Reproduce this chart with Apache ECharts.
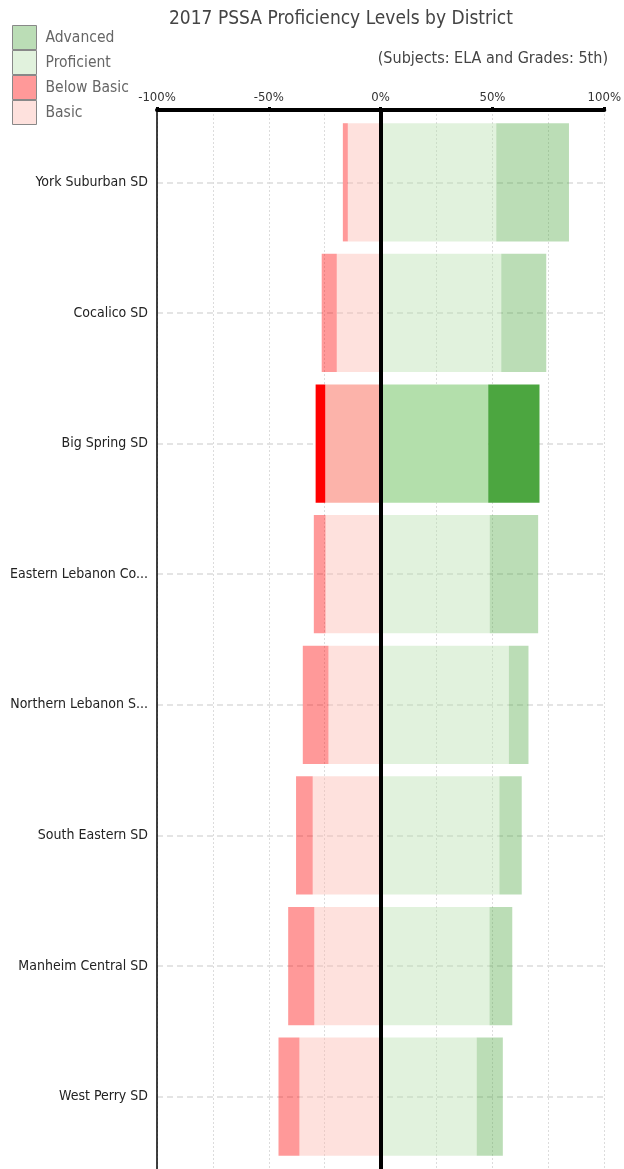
<!DOCTYPE html>
<html><head><meta charset="utf-8">
<script src="https://cdn.jsdelivr.net/npm/echarts@6/dist/echarts.min.js"></script>
<style>html,body{margin:0;padding:0;background:#fff}#c{width:624px;height:1169px}</style>
</head><body><div id="c"></div>
<script>
// ---- data (percent of students) ----
const districts = ['York Suburban SD','Cocalico SD','Big Spring SD','Eastern Lebanon Co...','Northern Lebanon S...','South Eastern SD','Manheim Central SD','West Perry SD'];
const advanced   = [32.3, 20.0, 22.8, 21.5,  8.7,  9.9, 10.1, 11.6];
const proficient = [50.8, 53.0, 47.2, 47.9, 56.4, 52.2, 47.8, 42.1];
const basic      = [15.2, 20.1, 25.2, 25.1, 23.8, 30.8, 30.1, 36.7];
const belowBasic = [ 2.2,  6.7,  4.3,  5.2, 11.4,  7.4, 11.6,  9.3];
const xTickValues = [-100, -50, 0, 50, 100];
const legendOrder = ['Advanced','Proficient','Below Basic','Basic'];
const highlightDistrict = 'Big Spring SD';

const FONT = "'Liberation Sans Narrow','Arial Narrow','DejaVu Sans Condensed',sans-serif";
const colors = {
  'Advanced':    {hi:'#4ca640', lo:'rgba(76,166,64,0.38)'},
  'Proficient':  {hi:'#b3dfab', lo:'rgba(179,223,171,0.4)'},
  'Below Basic': {hi:'#ff0000', lo:'rgba(255,0,0,0.4)'},
  'Basic':       {hi:'#fcb3aa', lo:'rgba(252,179,170,0.4)'}
};
function makeData(values, sign, key) {
  return values.map((v, i) => districts[i] === highlightDistrict
    ? {value: sign * v, itemStyle: {color: colors[key].hi}}
    : sign * v);
}
function makeSeries(name, values, sign) {
  return {
    name, type: 'bar', stack: 'total', xAxisIndex: 0, yAxisIndex: 0,
    barCategoryGap: '9.5%',
    itemStyle: {color: colors[name].lo},
    emphasis: {disabled: true},
    data: makeData(values, sign, name)
  };
}
const xMin = xTickValues[0], xMax = xTickValues[xTickValues.length - 1], xStep = xTickValues[1] - xTickValues[0];

const chart = echarts.init(document.getElementById('c'), null, {renderer: 'canvas'});
chart.setOption({
  animation: false,
  backgroundColor: '#fff',
  title: [
    {text: '2017 PSSA Proficiency Levels by District', left: 164, top: 5,
     textStyle: {fontFamily: FONT, fontSize: 19, fontWeight: 'normal', color: '#444'}},
    {text: '(Subjects: ELA and Grades: 5th)', right: 11, top: 46,
     textStyle: {fontFamily: FONT, fontSize: 16, fontWeight: 'normal', color: '#444'}}
  ],
  legend: {
    orient: 'vertical', left: 7, top: 20, itemWidth: 24, itemHeight: 24, itemGap: 0,
    icon: 'rect', data: legendOrder,
    itemStyle: {borderColor: '#888', borderWidth: 1},
    textStyle: {fontFamily: FONT, fontSize: 15.5, color: '#666', padding: [0, 0, 0, 4]}
  },
  grid: [
    {left: 157, right: 17, top: 117, bottom: 7},
    {left: 157, right: 17, top: 110, bottom: 0}
  ],
  xAxis: [
    {gridIndex: 0, type: 'value', min: xMin, max: xMax, interval: xStep, show: false},
    {gridIndex: 1, type: 'value', position: 'top', min: xMin, max: xMax, interval: xStep,
     axisLine: {show: true, onZero: false, lineStyle: {color: '#000', width: 4}},
     axisTick: {show: true, length: 3, lineStyle: {color: '#000', width: 3}},
     axisLabel: {formatter: v => v + '%', fontFamily: FONT, fontSize: 13, color: '#333', margin: 6,
                 showMinLabel: true, showMaxLabel: true},
     splitLine: {show: true, lineStyle: {color: '#dcdcdc', type: [2, 2], width: 1}},
     minorTick: {show: false, splitNumber: 2},
     minorSplitLine: {show: true, lineStyle: {color: '#dcdcdc', type: [2, 2], width: 1}}
    }
  ],
  yAxis: [
    {gridIndex: 0, type: 'category', data: districts, inverse: true,
     axisLine: {show: false}, axisTick: {show: false},
     axisLabel: {interval: 0, fontFamily: FONT, fontSize: 14, color: '#222', margin: 9},
     splitLine: {show: true, interval: 0, alignWithLabel: true,
                 lineStyle: {color: '#dcdcdc', type: [6, 4], width: 1.5}}
    },
    {gridIndex: 1, type: 'value', min: 0, max: 1, position: 'left',
     axisLine: {show: true, onZero: false, lineStyle: {color: '#000', width: 1.5}},
     axisTick: {show: false}, axisLabel: {show: false}, splitLine: {show: false}},
    {gridIndex: 1, type: 'value', min: 0, max: 1, z: 5,
     axisLine: {show: true, onZero: true, lineStyle: {color: '#000', width: 4}},
     axisTick: {show: false}, axisLabel: {show: false}, splitLine: {show: false}}
  ],
  series: [
    makeSeries('Basic', basic, -1),
    makeSeries('Below Basic', belowBasic, -1),
    makeSeries('Proficient', proficient, 1),
    makeSeries('Advanced', advanced, 1)
  ]
});
</script></body></html>
